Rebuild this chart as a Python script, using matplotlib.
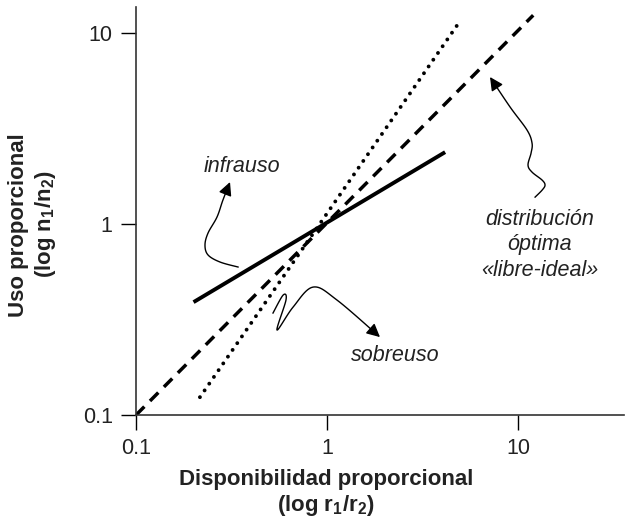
import numpy as np
import matplotlib.pyplot as plt

plt.rcParams['font.family'] = ['Liberation Sans', 'DejaVu Sans']
plt.rcParams['mathtext.fontset'] = 'custom'
plt.rcParams['mathtext.rm'] = 'Liberation Sans'
plt.rcParams['mathtext.bf'] = 'Liberation Sans:bold'

# lineas (disponibilidad r1/r2, uso n1/n2)
ideal_x = [0.1, 12.0]
ideal_y = [0.1, 12.4]
sobre_x = [0.216, 4.8]
sobre_y = [0.124, 11.0]
infra_x = [0.20, 4.15]
infra_y = [0.39, 2.38]

ticks = [0.1, 1, 10]
tick_labels = ['0.1', '1', '10']

# flechas onduladas (log10 de x, log10 de y), la ultima es la punta
arrow_infra = [(-0.466, -0.225), (-0.560, -0.199), (-0.623, -0.162),
               (-0.639, -0.110), (-0.623, -0.047), (-0.576, 0.037),
               (-0.545, 0.126), (-0.508, 0.220)]
arrow_sobre = [(-0.283, -0.466), (-0.230, -0.372), (-0.215, -0.398),
               (-0.262, -0.555), (-0.178, -0.435), (-0.073, -0.330),
               (0.052, -0.398), (0.277, -0.592)]
arrow_ideal = [(1.089, 0.141), (1.126, 0.178), (1.141, 0.204),
               (1.126, 0.230), (1.073, 0.272), (1.052, 0.309),
               (1.068, 0.372), (1.073, 0.424), (1.047, 0.492),
               (0.958, 0.613), (0.853, 0.770)]


def smooth(pts, n=12):
    # catmull-rom solo para dibujar la flecha suave
    p = np.array(pts)
    p = np.vstack([p[0], p, p[-1]])
    out = []
    for i in range(1, len(p) - 2):
        p0, p1, p2, p3 = p[i - 1], p[i], p[i + 1], p[i + 2]
        for t in np.linspace(0, 1, n, endpoint=False):
            out.append(0.5 * (2 * p1 + (-p0 + p2) * t
                              + (2 * p0 - 5 * p1 + 4 * p2 - p3) * t**2
                              + (-p0 + 3 * p1 - 3 * p2 + p3) * t**3))
    out.append(p[-2])
    return 10 ** np.array(out)


def squiggle(ax, pts):
    c = smooth(pts)
    ax.plot(c[:-3, 0], c[:-3, 1], color='black', lw=1.0)
    ax.annotate('', xy=c[-1], xytext=c[-4],
                arrowprops=dict(arrowstyle='-|>', color='black', lw=1.0,
                                mutation_scale=20, shrinkA=0, shrinkB=0))


fig = plt.figure(figsize=(6.26, 5.25), dpi=100)
ax = fig.add_axes([0.2173, 0.2095, 0.7797, 0.7772])
ax.set_xscale('log')
ax.set_yscale('log')
ax.set_xlim(0.1, 35.9)
ax.set_ylim(0.1, 13.7)

ax.plot(ideal_x, ideal_y, color='black', lw=2.5, linestyle=(0, (3.4, 2.3)))
ax.plot(sobre_x, sobre_y, color='black', lw=2.8, linestyle=(0, (0.01, 2.1)),
        dash_capstyle='round')
ax.plot(infra_x, infra_y, color='black', lw=2.8, solid_capstyle='butt')

squiggle(ax, arrow_infra)
squiggle(ax, arrow_sobre)
squiggle(ax, arrow_ideal)

ax.text(0.359, 1.99, 'infrauso', style='italic', fontsize=15.5,
        ha='center', va='center', color='#222222')
ax.text(2.27, 0.206, 'sobreuso', style='italic', fontsize=15.5,
        ha='center', va='center', color='#222222')
ax.text(13.0, 0.777, 'distribución\nóptima\n«libre-ideal»', style='italic',
        fontsize=15.5, ha='center', va='center', linespacing=1.3,
        color='#222222')

ax.set_xticks(ticks)
ax.set_xticklabels(tick_labels)
ax.set_yticks(ticks)
ax.set_yticklabels(tick_labels)
ax.minorticks_off()
ax.tick_params(direction='out', length=10.8, width=1.0, pad=6,
               labelsize=15.5, colors='black', labelcolor='#222222')
for s in ['top', 'right']:
    ax.spines[s].set_visible(False)
for s in ['left', 'bottom']:
    ax.spines[s].set_linewidth(1.2)
    ax.spines[s].set_color('#333333')

fig.text(0.521, 0.060, 'Disponibilidad proporcional\n(log r$_\\mathbf{1}$/r$_\\mathbf{2}$)',
         ha='center', va='center', fontsize=16, fontweight='bold',
         linespacing=1.2, color='#222222')
fig.text(0.053, 0.572, 'Uso proporcional\n(log n$_\\mathbf{1}$/n$_\\mathbf{2}$)',
         ha='center', va='center', rotation=90, fontsize=16,
         fontweight='bold', linespacing=1.2, color='#222222')

fig.savefig('out.png', dpi=100)
